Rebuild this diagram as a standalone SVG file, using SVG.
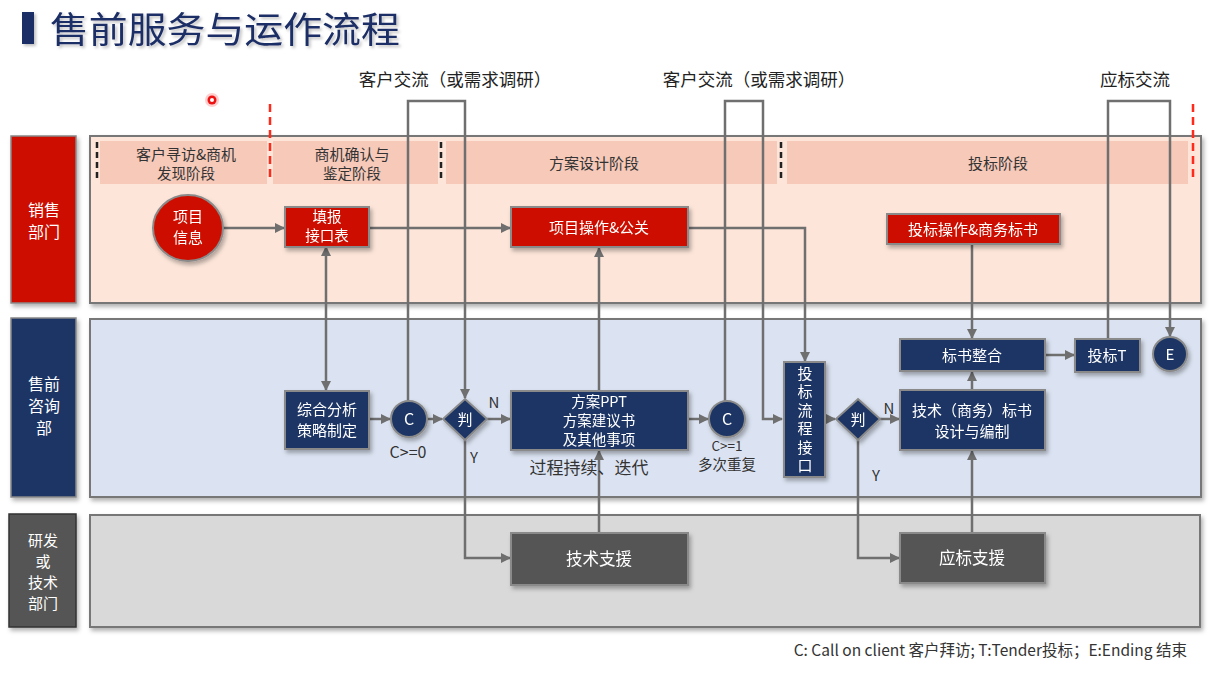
<svg xmlns="http://www.w3.org/2000/svg" width="1220" height="684" viewBox="0 0 1220 684">
<defs>
<style>
text{font-family:"Noto Sans CJK SC","Noto Sans",sans-serif}
.lane{stroke:#777;stroke-width:2}
.hdr{fill:#f6c9b9}
.ph{font-size:14.5px;fill:#333;text-anchor:middle}
.red{fill:#cc1100;stroke:#8a8a8a;stroke-width:2}
.navy{fill:#1e3665;stroke:#8a8a8a;stroke-width:2}
.gray{fill:#555555;stroke:#8a8a8a;stroke-width:2}
.wt{fill:#fff;font-size:15px;text-anchor:middle}
.lab{fill:#333;font-size:15px;text-anchor:middle}
.top{fill:#222;font-size:17.5px;text-anchor:middle}
.c{fill:none;stroke:#6f6f6f;stroke-width:2.5}
.dash{stroke:#222;stroke-width:2.5;stroke-dasharray:6,4}
.rdash{stroke:#ff2a1a;stroke-width:2.5;stroke-dasharray:8,5}
</style>
<marker id="ar" viewBox="0 0 10 10" refX="9" refY="5" markerWidth="4" markerHeight="4" orient="auto" markerUnits="strokeWidth">
<path d="M0,0 L10,5 L0,10 z" fill="#6f6f6f"/>
</marker>
<filter id="sh" x="-10%" y="-10%" width="130%" height="140%">
<feDropShadow dx="2" dy="3" stdDeviation="2" flood-color="#000" flood-opacity="0.3"/>
</filter>
<filter id="tsh" filterUnits="userSpaceOnUse" x="0" y="0" width="460" height="60">
<feDropShadow dx="2" dy="2" stdDeviation="1.5" flood-color="#000" flood-opacity="0.25"/>
</filter>
</defs>
<rect width="1220" height="684" fill="#fff"/>

<g id="title" filter="url(#tsh)">
<rect x="22" y="12" width="12" height="32" fill="#1e2f66"/>
<text transform="translate(50,43) scale(1.08,1)" x="0" y="0" style="font-size:36px;fill:#1e2f66">售前服务与运作流程</text>
</g>

<g id="cursor-dot">
<circle cx="212" cy="100" r="7" fill="#ff3b3b" opacity="0.25"/>
<circle cx="212" cy="100" r="4.5" fill="#e11"/>
<circle cx="212" cy="100" r="2" fill="#fff"/>
</g>

<g id="lanes">
<rect class="lane" x="90" y="136" width="1111" height="167" fill="#fde5d9" filter="url(#sh)"/>
<rect class="lane" x="90" y="319" width="1111" height="178" fill="#dbe3f2" filter="url(#sh)"/>
<rect class="lane" x="90" y="515" width="1110" height="112" fill="#d9d9d9" filter="url(#sh)"/>
</g>

<g id="dept-sales">
<rect x="11" y="136" width="65" height="167" fill="#cc1100" stroke="#888" stroke-width="1.5" filter="url(#sh)"/>
<text class="wt" x="44" y="216" style="font-size:16px">销售</text>
<text class="wt" x="44" y="238" style="font-size:16px">部门</text>
</g>
<g id="dept-presales">
<rect x="11" y="318" width="65" height="179" fill="#1e3665" stroke="#888" stroke-width="1.5" filter="url(#sh)"/>
<text class="wt" x="44" y="390" style="font-size:16px">售前</text>
<text class="wt" x="44" y="412" style="font-size:16px">咨询</text>
<text class="wt" x="44" y="434" style="font-size:16px">部</text>
</g>
<g id="dept-rd">
<rect x="9" y="514" width="67" height="113" fill="#555" stroke="#333" stroke-width="1.5" filter="url(#sh)"/>
<text class="wt" x="43" y="546" style="font-size:15px">研发</text>
<text class="wt" x="43" y="567" style="font-size:15px">或</text>
<text class="wt" x="43" y="588" style="font-size:15px">技术</text>
<text class="wt" x="43" y="609" style="font-size:15px">部门</text>
</g>

<g id="phases">
<rect class="hdr" x="100" y="141" width="167" height="43"/>
<rect class="hdr" x="273" y="141" width="165" height="43"/>
<rect class="hdr" x="446" y="141" width="331" height="43"/>
<rect class="hdr" x="787" y="141" width="401" height="43"/>
<text class="ph" x="186" y="160" style="font-size:15px">客户寻访&amp;商机</text>
<text class="ph" x="186" y="179">发现阶段</text>
<text class="ph" x="352" y="160" style="font-size:15px">商机确认与</text>
<text class="ph" x="352" y="179">鉴定阶段</text>
<text class="ph" x="594" y="169" style="font-size:15px">方案设计阶段</text>
<text class="ph" x="998" y="169" style="font-size:15px">投标阶段</text>
<line class="dash" x1="97" y1="142" x2="97" y2="181"/>
<line class="dash" x1="441" y1="142" x2="441" y2="181"/>
<line class="dash" x1="781" y1="142" x2="781" y2="181"/>
<line class="rdash" x1="270" y1="104" x2="270" y2="182"/>
<line class="rdash" x1="1193" y1="104" x2="1193" y2="182"/>
</g>

<g id="connectors">
<line class="c" x1="223" y1="228" x2="284" y2="228" marker-end="url(#ar)"/>
<line class="c" x1="369" y1="228" x2="510" y2="228" marker-end="url(#ar)"/>
<line class="c" x1="326" y1="270" x2="326" y2="247" marker-end="url(#ar)"/>
<line class="c" x1="326" y1="270" x2="326" y2="390" marker-end="url(#ar)"/>
<line class="c" x1="369" y1="419" x2="390" y2="419" marker-end="url(#ar)"/>
<line class="c" x1="427" y1="419" x2="442" y2="419" marker-end="url(#ar)"/>
<polyline class="c" points="408,401 408,101 465,101 465,398" marker-end="url(#ar)"/>
<line class="c" x1="487" y1="419" x2="510" y2="419" marker-end="url(#ar)"/>
<polyline class="c" points="465,440 465,558 510,558" marker-end="url(#ar)"/>
<line class="c" x1="599" y1="533" x2="599" y2="451" marker-end="url(#ar)"/>
<line class="c" x1="599" y1="391" x2="599" y2="248" marker-end="url(#ar)"/>
<line class="c" x1="688" y1="419" x2="708" y2="419" marker-end="url(#ar)"/>
<polyline class="c" points="725,401 725,101 763,101 763,419 782,419" marker-end="url(#ar)"/>
<polyline class="c" points="688,228 805,228 805,361" marker-end="url(#ar)"/>
<line class="c" x1="825" y1="419" x2="835" y2="419" marker-end="url(#ar)"/>
<line class="c" x1="880" y1="419" x2="899" y2="419" marker-end="url(#ar)"/>
<polyline class="c" points="858,440 858,558 899,558" marker-end="url(#ar)"/>
<line class="c" x1="972" y1="533" x2="972" y2="451" marker-end="url(#ar)"/>
<line class="c" x1="972" y1="390" x2="972" y2="372" marker-end="url(#ar)"/>
<line class="c" x1="972" y1="244" x2="972" y2="338" marker-end="url(#ar)"/>
<line class="c" x1="1045" y1="355" x2="1074" y2="355" marker-end="url(#ar)"/>
<polyline class="c" points="1108,339 1108,101 1170,101 1170,336" marker-end="url(#ar)"/>
</g>

<g id="n-xiangmu" filter="url(#sh)">
<ellipse class="red" cx="188" cy="228" rx="35" ry="33"/>
<text class="wt" x="188" y="222">项目</text>
<text class="wt" x="188" y="243">信息</text>
</g>
<g id="n-tianbao" filter="url(#sh)">
<rect class="red" x="285" y="207" width="84" height="40"/>
<text class="wt" x="327" y="222" style="font-size:14.5px">填报</text>
<text class="wt" x="327" y="241" style="font-size:14.5px">接口表</text>
</g>
<g id="n-caozuo" filter="url(#sh)">
<rect class="red" x="511" y="207" width="177" height="40"/>
<text class="wt" x="599" y="233">项目操作&amp;公关</text>
</g>
<g id="n-toubiaocaozuo" filter="url(#sh)">
<rect class="red" x="887" y="214" width="173" height="30"/>
<text class="wt" x="973" y="235">投标操作&amp;商务标书</text>
</g>

<g id="n-zonghe" filter="url(#sh)">
<rect class="navy" x="285" y="391" width="84" height="58"/>
<text class="wt" x="327" y="415">综合分析</text>
<text class="wt" x="327" y="436">策略制定</text>
</g>
<g id="n-c1" filter="url(#sh)">
<circle class="navy" cx="409" cy="419" r="18"/>
<text class="wt" x="409" y="425" style="font-size:16px">C</text>
</g>
<g id="n-pan1" filter="url(#sh)">
<polygon class="navy" points="465,399 487,419 465,440 443,419"/>
<text class="wt" x="465" y="425">判</text>
</g>
<g id="n-ppt" filter="url(#sh)">
<rect class="navy" x="511" y="391" width="177" height="59"/>
<text class="wt" x="599" y="407" style="font-size:14.5px">方案PPT</text>
<text class="wt" x="599" y="426" style="font-size:14.5px">方案建议书</text>
<text class="wt" x="599" y="445" style="font-size:14.5px">及其他事项</text>
</g>
<g id="n-c2" filter="url(#sh)">
<circle class="navy" cx="727" cy="419" r="18"/>
<text class="wt" x="727" y="425" style="font-size:16px">C</text>
</g>
<g id="n-jiekou" filter="url(#sh)">
<rect class="navy" x="784" y="362" width="41" height="115"/>
<text class="wt" x="805" y="421" style="writing-mode:vertical-rl;letter-spacing:3.5px">投标流程接口</text>
</g>
<g id="n-pan2" filter="url(#sh)">
<polygon class="navy" points="858,399 880,419 858,440 836,419"/>
<text class="wt" x="858" y="425">判</text>
</g>
<g id="n-bianzhi" filter="url(#sh)">
<rect class="navy" x="900" y="390" width="145" height="60"/>
<text class="wt" x="972" y="416">技术（商务）标书</text>
<text class="wt" x="972" y="437">设计与编制</text>
</g>
<g id="n-zhenghe" filter="url(#sh)">
<rect class="navy" x="900" y="339" width="145" height="32"/>
<text class="wt" x="972" y="361">标书整合</text>
</g>
<g id="n-toubiaoT" filter="url(#sh)">
<rect class="navy" x="1075" y="339" width="65" height="33"/>
<text class="wt" x="1107" y="361">投标T</text>
</g>
<g id="n-e" filter="url(#sh)">
<circle class="navy" cx="1170" cy="354" r="17"/>
<text class="wt" x="1170" y="360">E</text>
</g>

<g id="n-jishu" filter="url(#sh)">
<rect class="gray" x="511" y="533" width="177" height="52"/>
<text class="wt" x="599" y="565" style="font-size:16.5px">技术支援</text>
</g>
<g id="n-yingbiao" filter="url(#sh)">
<rect class="gray" x="900" y="533" width="145" height="50"/>
<text class="wt" x="972" y="564" style="font-size:16.5px">应标支援</text>
</g>

<g id="labels">
<text class="top" x="455" y="86">客户交流（或需求调研）</text>
<text class="top" x="759" y="86">客户交流（或需求调研）</text>
<text class="top" x="1135" y="86">应标交流</text>
<text class="lab" x="494" y="408">N</text>
<text class="lab" x="474" y="463">Y</text>
<text class="lab" x="408" y="458" style="font-size:16px">C&gt;=0</text>
<text class="lab" x="589" y="474" style="font-size:17px">过程持续、迭代</text>
<text class="lab" x="727" y="451" style="font-size:13.5px">C&gt;=1</text>
<text class="lab" x="727" y="470" style="font-size:14.5px">多次重复</text>
<text class="lab" x="889" y="414">N</text>
<text class="lab" x="876" y="481">Y</text>
<text x="1187" y="656" style="font-size:15.5px;fill:#333;text-anchor:end">C: Call on client 客户拜访; T:Tender投标；E:Ending 结束</text>
</g>
</svg>
